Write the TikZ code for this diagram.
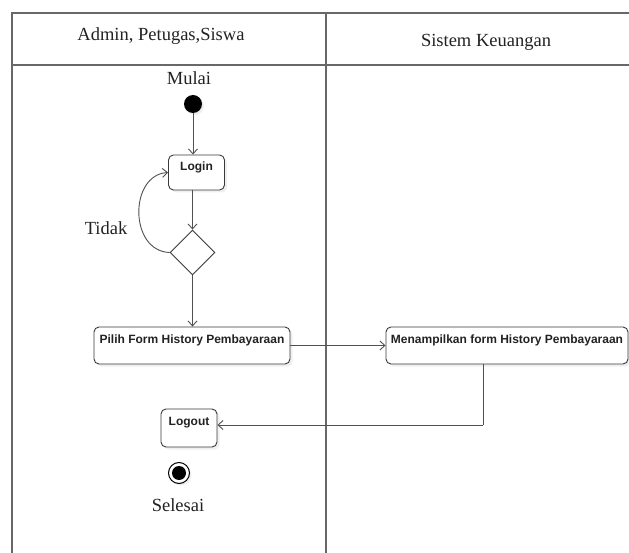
\documentclass[tikz,border=0pt]{standalone}
\usepackage{fontspec}
\setmainfont{Liberation Serif}
\newfontfamily\boxfont{Liberation Sans}
\usetikzlibrary{arrows.meta,shapes.geometric,shadows}

\definecolor{frameline}{HTML}{686868}
\definecolor{edgeline}{HTML}{505050}
\definecolor{boxline}{HTML}{3A3A3A}
\definecolor{ink}{HTML}{222222}

\tikzset{
  lane/.style={draw=frameline, line width=1.6pt},
  title/.style={font=\fontsize{18.5}{21}\selectfont, text=ink, inner sep=0pt},
  act/.style={draw=boxline, line width=0.9pt, rounded corners=5pt, fill=white,
    inner xsep=0pt, inner ysep=2pt, text height=14pt, text=ink,
    font=\boxfont\bfseries\fontsize{12}{14}\selectfont,
    drop shadow={opacity=0.12, shadow xshift=2.5pt, shadow yshift=-2.5pt}},
  decision/.style={diamond, draw=boxline, line width=0.9pt, fill=white,
    minimum width=45pt, minimum height=45pt, inner sep=0pt, aspect=1},
  flow/.style={draw=edgeline, line width=0.9pt,
    -{Straight Barb[length=5pt,width=9pt,line width=0.9pt]}},
  plain/.style={draw=edgeline, line width=0.9pt},
}

\begin{document}
\begin{tikzpicture}[x=1pt,y=-1pt]
  \useasboundingbox (0,0) rectangle (629,553);
  \fill[white] (0,0) rectangle (629,553);

  % swimlane frame
  \draw[lane] (12,553) -- (12,13) -- (629,13);
  \draw[lane] (12,65) -- (629,65);
  \draw[lane] (326,13) -- (326,553);

  % lane titles
  \node[title] (laneA) at (161,36) {Admin, Petugas,Siswa};
  \node[title] (laneB) at (486,42) {Sistem Keuangan};

  % start
  \node[title] (mulai) at (189,78) {Mulai};
  \node[circle, fill=black, minimum size=18pt, inner sep=0pt,
        drop shadow={opacity=0.12, shadow xshift=2pt, shadow yshift=-2pt}] (start) at (193,104) {};

  % actions
  \node[act, minimum width=56pt, text depth=17pt] (login) at (196.5,172.5) {Login};
  \node[decision] (dec) at (192.5,252.5) {};
  \node[act, minimum width=196pt, text depth=19pt] (pilih) at (192,345.5) {Pilih Form History Pembayaraan};
  \node[act, minimum width=242pt, text depth=19pt] (tampil) at (507,345.5) {Menampilkan form History Pembayaraan};
  \node[act, minimum width=56pt, text depth=20pt] (logout) at (189,428) {Logout};

  % end
  \node[circle, draw=black, line width=1pt, fill=white, minimum size=21pt, inner sep=0pt,
        drop shadow={opacity=0.12, shadow xshift=2pt, shadow yshift=-2pt}] (end) at (179,473) {};
  \fill[black] (end.center) circle (7pt);
  \node[title] (selesai) at (178,505) {Selesai};

  % labels
  \node[title] (tidak) at (106,228) {Tidak};

  % connectors
  \coordinate (turn) at (483,425);
  \draw[flow] (start) -- (start |- login.north);
  \draw[flow] (dec |- login.south) -- (dec.north);
  \draw[flow] (dec.west) .. controls (129,251) and (129,175) .. (login.west);
  \draw[flow] (dec.south) -- (dec |- pilih.north);
  \draw[flow] (pilih.east) -- (tampil.west);
  \draw[plain] (tampil.south -| turn) -- (turn);
  \draw[flow] (turn) -- (turn -| logout.east);
\end{tikzpicture}
\end{document}
